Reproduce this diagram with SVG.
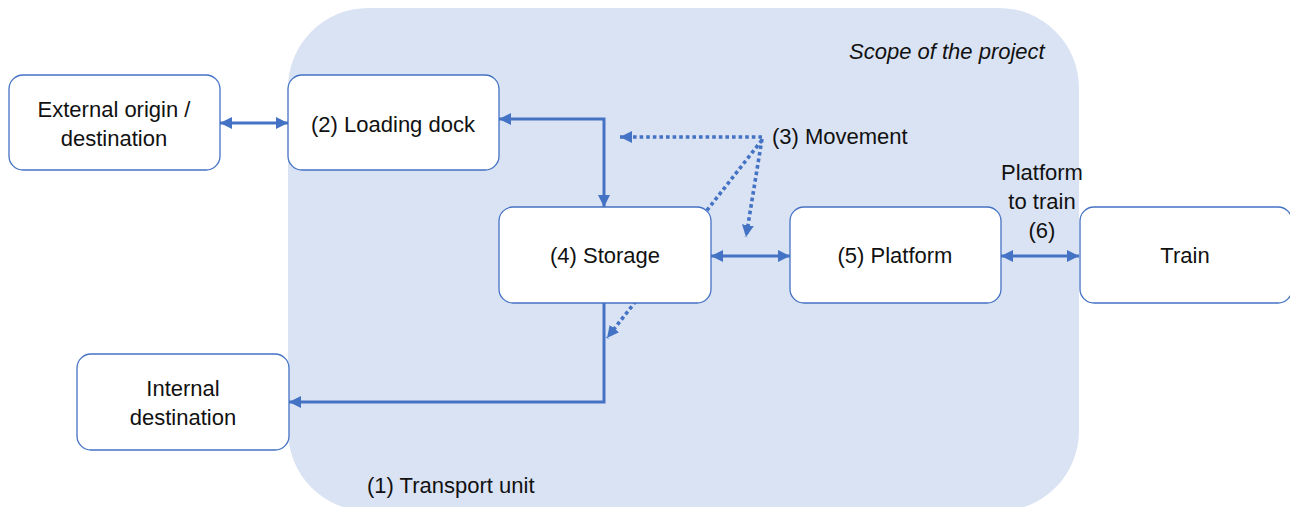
<svg xmlns="http://www.w3.org/2000/svg" width="1290" height="507" viewBox="0 0 1290 507">
<style>
.box{fill:#fff;stroke:#4472C4;stroke-width:1.3}
.t{font-family:"Liberation Sans",Arial,sans-serif;font-size:22px;fill:#111}
.c{text-anchor:middle}
.ln{fill:none;stroke:#4472C4;stroke-width:3}
.dot{fill:none;stroke:#4472C4;stroke-width:3.6;stroke-dasharray:3.6 3}
</style>
<defs>
<marker id="ah" markerUnits="userSpaceOnUse" markerWidth="13" markerHeight="13" refX="12" refY="6" orient="auto-start-reverse">
<path d="M0,0 L12,6 L0,12 z" fill="#4472C4"/>
</marker>
</defs>
<g id="scope">
<rect x="288" y="8" width="791" height="503" rx="80" ry="80" fill="#DAE3F3"/>
<text class="t" x="849" y="59" font-style="italic">Scope of the project</text>
<text class="t" x="367" y="493">(1) Transport unit</text>
</g>
<g id="connectors">
<line class="ln" x1="220" y1="123" x2="288" y2="123" marker-start="url(#ah)" marker-end="url(#ah)"/>
<polyline class="ln" points="499,119 604,119 604,207" marker-start="url(#ah)" marker-end="url(#ah)"/>
<polyline class="ln" points="604,303 604,402 289,402" marker-end="url(#ah)"/>
<line class="ln" x1="711" y1="256" x2="790" y2="256" marker-start="url(#ah)" marker-end="url(#ah)"/>
<line class="ln" x1="1001" y1="256" x2="1079" y2="256" marker-start="url(#ah)" marker-end="url(#ah)"/>
<line class="dot" x1="762" y1="137" x2="620" y2="137" marker-end="url(#ah)"/>
<line class="dot" x1="762" y1="139" x2="746" y2="237" marker-end="url(#ah)"/>
<line class="dot" x1="762" y1="140" x2="607" y2="338" marker-end="url(#ah)"/>
</g>
<g id="external">
<rect class="box" x="9" y="75" width="211" height="95" rx="14"/>
<text class="t c" x="114" y="117">External origin /</text>
<text class="t c" x="114" y="146">destination</text>
</g>
<g id="loading">
<rect class="box" x="288" y="75" width="211" height="95" rx="14"/>
<text class="t c" x="393" y="132">(2) Loading dock</text>
</g>
<g id="storage">
<rect class="box" x="499" y="207" width="212" height="96" rx="14"/>
<text class="t c" x="605" y="263">(4) Storage</text>
</g>
<g id="platform">
<rect class="box" x="790" y="207" width="211" height="96" rx="14"/>
<text class="t c" x="895" y="263">(5) Platform</text>
</g>
<g id="train">
<rect class="box" x="1080" y="207" width="212" height="96" rx="14"/>
<text class="t c" x="1185" y="263">Train</text>
</g>
<g id="internal">
<rect class="box" x="77" y="354" width="212" height="96" rx="14"/>
<text class="t c" x="183" y="396">Internal</text>
<text class="t c" x="183" y="425">destination</text>
</g>
<g id="movement">
<text class="t" x="772" y="144">(3) Movement</text>
</g>
<g id="p2t">
<text class="t c" x="1042" y="180">Platform</text>
<text class="t c" x="1042" y="209">to train</text>
<text class="t c" x="1042" y="238">(6)</text>
</g>
</svg>
